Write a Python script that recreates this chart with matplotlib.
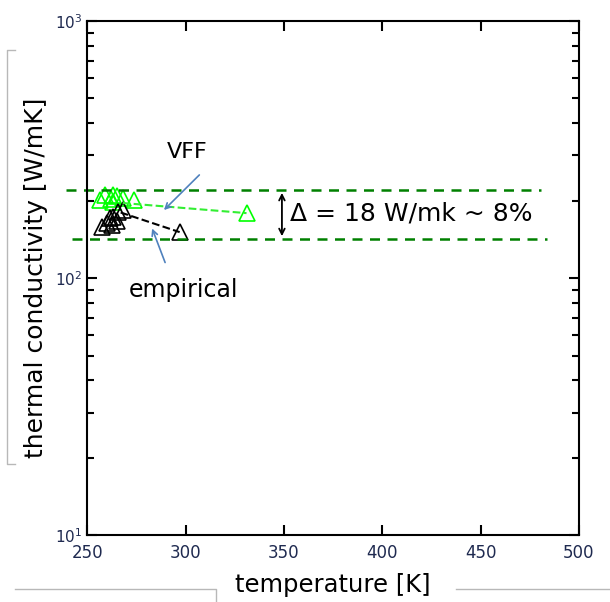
import matplotlib
matplotlib.use("Agg")
import matplotlib.pyplot as plt
from matplotlib.lines import Line2D
from matplotlib.ticker import LogLocator, NullFormatter

# thermal conductivity vs temperature
vff_T = [256.5, 259, 263, 262, 265, 268, 263, 274, 331]
vff_k = [201, 210, 211, 204, 208, 205, 198, 201, 179]
emp_T = [257.5, 260, 261.5, 263, 265.5, 268, 265, 262.5, 297]
emp_k = [158, 164, 171, 173, 181, 184, 167, 161, 151]
vff_fit_T = [268, 331]
vff_fit_k = [196, 179]
emp_fit_T = [267, 297]
emp_fit_k = [180, 151]
band_levels = [220, 142]
x_ticks = [250, 300, 350, 400, 450, 500]

fig = plt.figure(figsize=(6.10, 6.02), dpi=100)
ax = fig.add_axes([0.143, 0.111, 0.806, 0.854])

ax.plot(vff_T, vff_k, linestyle="none", marker="^", markersize=12,
        markerfacecolor="none", markeredgecolor="#00ff00", markeredgewidth=1.2)
ax.plot(emp_T, emp_k, linestyle="none", marker="^", markersize=12,
        markerfacecolor="none", markeredgecolor="black", markeredgewidth=1.2)
ax.plot(vff_fit_T, vff_fit_k, "--", color="#33ee33", lw=1.5)
ax.plot(emp_fit_T, emp_fit_k, "--", color="black", lw=1.5)

ax.set_yscale("log")
ax.set_xlim(250, 500)
ax.set_ylim(10, 1000)
ax.set_xticks(x_ticks)
ax.yaxis.set_minor_locator(LogLocator(base=10, subs=range(2, 10)))
ax.yaxis.set_minor_formatter(NullFormatter())
ax.tick_params(which="both", direction="in", top=True, right=True,
               labelcolor="#1f2a50", width=1.5)
ax.tick_params(which="major", length=7)
ax.tick_params(which="minor", length=5)
ax.tick_params(axis="x", labelsize=12, pad=6)
ax.tick_params(axis="y", labelsize=11)
for s in ax.spines.values():
    s.set_linewidth(1.5)

ax.set_xlabel("temperature [K]", fontsize=17.5, labelpad=8)
ax.set_ylabel("thermal conductivity [W/mK]", fontsize=18, labelpad=5)

# band of +- spread
ax.add_line(Line2D([239.3, 480.7], [band_levels[0]] * 2, color="#008000",
                   lw=1.8, ls=(0, (4, 3)), clip_on=False))
ax.add_line(Line2D([242.4, 484], [band_levels[1]] * 2, color="#008000",
                   lw=1.8, ls=(0, (4, 3)), clip_on=False))
ax.annotate("", xy=(349, band_levels[0]), xytext=(349, band_levels[1]),
            arrowprops=dict(arrowstyle="<->", color="black", lw=1.3))
ax.text(353, 179, "Δ = 18 W/mk ~ 8%", fontsize=18, va="center", ha="left")

ax.text(301, 309, "VFF", fontsize=16, ha="center", va="center")
ax.annotate("", xy=(289, 184), xytext=(307, 252),
            arrowprops=dict(arrowstyle="->", color="#4f81bd", lw=1.2,
                            shrinkA=0, shrinkB=0))
ax.text(299, 90, "empirical", fontsize=17, ha="center", va="center")
ax.annotate("", xy=(283, 156), xytext=(289.6, 115),
            arrowprops=dict(arrowstyle="->", color="#4f81bd", lw=1.2,
                            shrinkA=0, shrinkB=0))

# grey text-box frames around the axis titles
W, H = 610, 602
def fig_line(xs, ys):
    fig.add_artist(Line2D([x / W for x in xs], [1 - y / H for y in ys],
                          color="#b8b8b8", lw=1.0, transform=fig.transFigure))
fig_line([15, 7, 7, 15], [50, 50, 464, 464])
fig_line([15, 216, 216], [589, 589, 602])
fig_line([456, 610], [589, 589])

fig.savefig("out.png", dpi=100)
